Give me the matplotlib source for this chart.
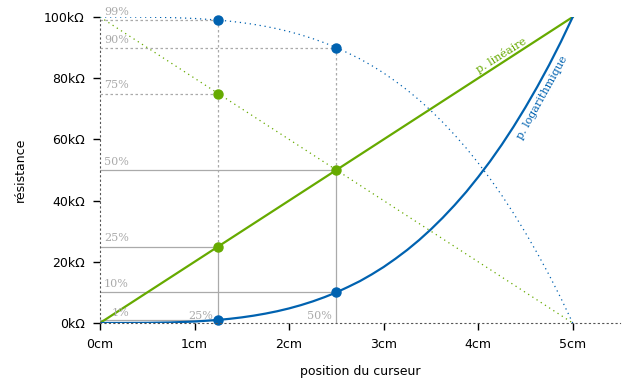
import matplotlib
matplotlib.use("Agg")
import matplotlib.pyplot as plt

# positions (cm) and resistance values (kΩ)
pos = [0, 0.25, 0.5, 0.75, 1.0, 1.25, 1.375, 1.5, 1.625, 1.75, 1.875, 2.0,
       2.125, 2.25, 2.375, 2.5, 2.625, 2.75, 2.875, 3.0, 3.125, 3.25, 3.375,
       3.5, 3.625, 3.75, 3.875, 4.0, 4.125, 4.25, 4.375, 4.5, 4.625, 4.75,
       4.875, 5.0]
log_vals = [0, 0.005, 0.05, 0.18, 0.48, 1.0, 1.38, 1.84, 2.40, 3.07, 3.85,
            4.77, 5.84, 7.06, 8.45, 10.0, 11.8, 13.7, 15.9, 18.3, 21.0, 23.9,
            27.1, 30.6, 34.4, 38.5, 42.9, 47.7, 52.8, 58.3, 64.2, 70.5, 77.2,
            84.3, 91.9, 100]
log_inv_vals = [100, 99.995, 99.95, 99.82, 99.52, 99.0, 98.62, 98.16, 97.6,
                96.93, 96.15, 95.23, 94.16, 92.94, 91.55, 90.0, 88.2, 86.3,
                84.1, 81.7, 79.0, 76.1, 72.9, 69.4, 65.6, 61.5, 57.1, 52.3,
                47.2, 41.7, 35.8, 29.5, 22.8, 15.7, 8.1, 0]
lin_pos = [0, 5]
lin_vals = [0, 100]
lin_inv_vals = [100, 0]

# highlighted points
pt_log_x = [1.25, 2.5]
pt_log_y = [1, 10]
pt_loginv_x = [1.25, 2.5]
pt_loginv_y = [99, 90]
pt_lin_x = [1.25, 2.5]
pt_lin_y = [25, 50]
pt_lininv_x = [1.25]
pt_lininv_y = [75]

yticks = [0, 20, 40, 60, 80, 100]
ytick_labels = ["0kΩ", "20kΩ", "40kΩ", "60kΩ", "80kΩ", "100kΩ"]
xticks = [0, 1, 2, 3, 4, 5]
xtick_labels = ["0cm", "1cm", "2cm", "3cm", "4cm", "5cm"]

BLUE = "#0062b0"
GREEN = "#66aa00"
GRAY = "#aaaaaa"

fig = plt.figure(figsize=(6.4, 3.84), dpi=100)
ax = fig.add_axes([100/640, 61/384, 520/640, 306/384])
ax.set_xlim(0, 5.5)
ax.set_ylim(0, 100)

# guide lines (solid part below curves, dotted above)
glw = 0.9
ax.plot([0, 1.25], [1, 1], color=GRAY, lw=glw)
ax.plot([0, 2.5], [10, 10], color=GRAY, lw=glw)
ax.plot([0, 1.25], [25, 25], color=GRAY, lw=glw)
ax.plot([0, 2.5], [50, 50], color=GRAY, lw=glw)
ax.plot([0, 1.25], [75, 75], color=GRAY, lw=glw, ls=(0, (2, 2)))
ax.plot([0, 2.5], [90, 90], color=GRAY, lw=glw, ls=(0, (2, 2)))
ax.plot([0, 1.25], [99, 99], color=GRAY, lw=glw, ls=(0, (2, 2)))
ax.plot([1.25, 1.25], [0, 25], color=GRAY, lw=glw)
ax.plot([1.25, 1.25], [25, 99], color=GRAY, lw=glw, ls=(0, (2, 2)))
ax.plot([2.5, 2.5], [0, 50], color=GRAY, lw=glw)
ax.plot([2.5, 2.5], [50, 90], color=GRAY, lw=glw, ls=(0, (2, 2)))

# curves
ax.plot(lin_pos, lin_inv_vals, color=GREEN, lw=0.9, ls=(0, (1, 3)))
ax.plot(pos, log_inv_vals, color=BLUE, lw=0.9, ls=(0, (1, 3)))
ax.plot(lin_pos, lin_vals, color=GREEN, lw=1.6)
ax.plot(pos, log_vals, color=BLUE, lw=1.6)

ms = 6.5
ax.plot(pt_lin_x, pt_lin_y, "o", color=GREEN, ms=ms, clip_on=False)
ax.plot(pt_lininv_x, pt_lininv_y, "o", color=GREEN, ms=ms, clip_on=False)
ax.plot(pt_log_x, pt_log_y, "o", color=BLUE, ms=ms, clip_on=False)
ax.plot(pt_loginv_x, pt_loginv_y, "o", color=BLUE, ms=ms, clip_on=False)

# percentage labels
serif = "DejaVu Serif"
lab_kw = dict(color=GRAY, fontsize=8, family=serif)
for yv, txt in [(99, "99%"), (90, "90%"), (75, "75%"), (50, "50%"),
                (25, "25%"), (10, "10%")]:
    ax.text(0.04, yv + 1.0, txt, va="bottom", ha="left", **lab_kw)
ax.text(0.12, 1.5, "1%", va="bottom", ha="left", **lab_kw)
ax.text(1.2, 0.5, "25%", va="bottom", ha="right", **lab_kw)
ax.text(2.45, 0.5, "50%", va="bottom", ha="right", **lab_kw)

# curve labels
ax.text(4.24, 87.5, "p. linéaire", color=GREEN, fontsize=8, family=serif,
        rotation=32, ha="center", va="center")
ax.text(4.68, 73.5, "p. logarithmique", color=BLUE, fontsize=8, family=serif,
        rotation=61, ha="center", va="center")

# axes styling
for s in ["top", "right"]:
    ax.spines[s].set_visible(False)
ax.spines["left"].set_linestyle((0, (1, 3)))
ax.spines["left"].set_color("#555555")
ax.spines["left"].set_bounds(0, 100)
ax.spines["bottom"].set_linestyle((0, (1, 3)))
ax.spines["bottom"].set_color("#555555")
ax.set_yticks(yticks)
ax.set_yticklabels(ytick_labels)
ax.set_xticks(xticks)
ax.set_xticklabels(xtick_labels)
ax.tick_params(direction="out", length=5, width=1, colors="black",
               labelsize=9, pad=6)
ax.set_xlabel("position du curseur", fontsize=9, labelpad=10)
ax.set_ylabel("résistance", fontsize=9, labelpad=12)

fig.savefig("out.png", dpi=100)
